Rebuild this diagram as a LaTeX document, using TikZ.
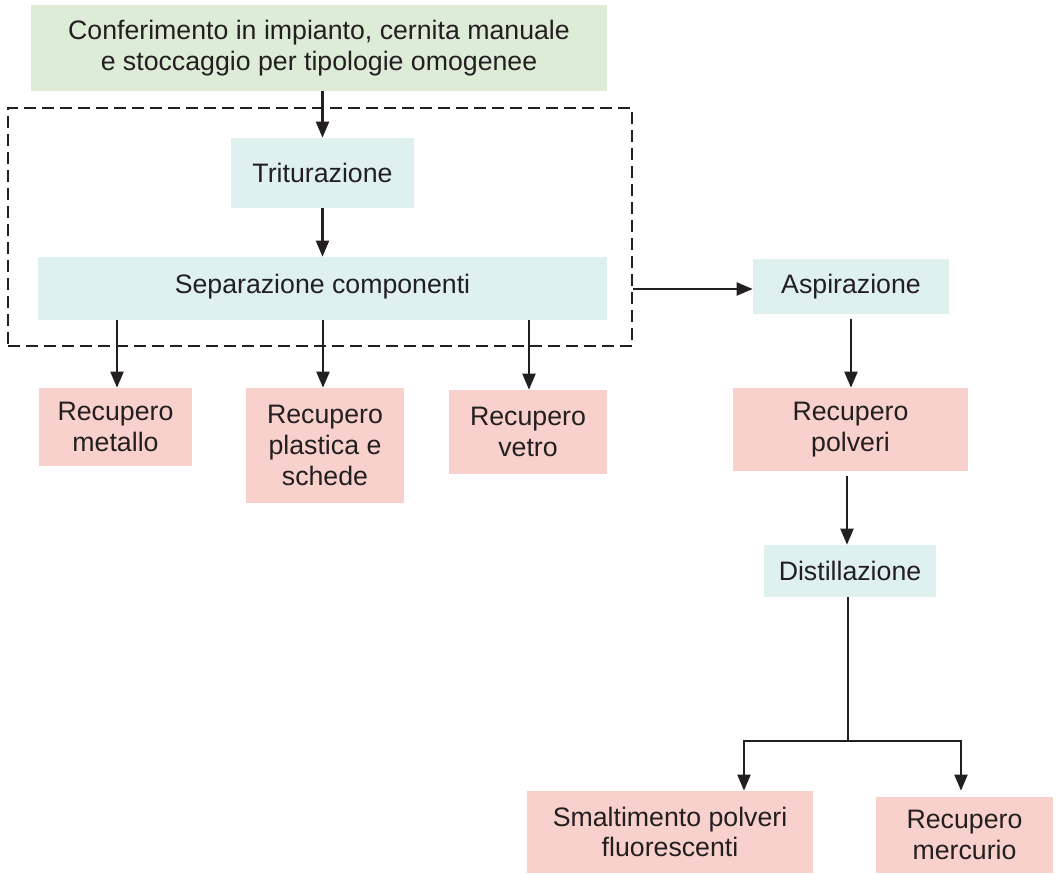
\documentclass[tikz,border=0pt]{standalone}
\usepackage{fontspec}
\setmainfont{Liberation Sans}
\usepackage{tikz}
\usetikzlibrary{arrows.meta,positioning,calc}
\usepackage{xcolor}
\definecolor{ink}{RGB}{35,31,32}
\definecolor{leaf}{RGB}{221,236,214}
\definecolor{aqua}{RGB}{222,241,239}
\definecolor{rose}{RGB}{248,208,204}
\tikzset{
  box/.style={inner sep=0pt,align=center,text=ink,
    font=\fontsize{15.2}{17.4}\selectfont},
  inbox/.style={box,fill=leaf},
  opbox/.style={box,fill=aqua},
  outbox/.style={box,fill=rose},
  frame/.style={draw=ink,line width=0.9pt,dash pattern=on 0.24cm off 0.12cm},
  arr/.style={-{Triangle[length=3.2mm,width=2.6mm]},draw=ink,line width=1.2pt},
  uarr/.style={draw=ink,line width=1.2pt},
}

\begin{document}
\begin{tikzpicture}[x=0.02cm,y=-0.02cm]
\useasboundingbox (0,0) rectangle (1058,873);
% upper block
\node[inbox, minimum width=11.52cm, minimum height=1.72cm] (conf) at (319,48)
  {Conferimento in impianto, cernita manuale\\e stoccaggio per tipologie omogenee};
\node[frame, minimum width=12.48cm, minimum height=4.76cm] (lines) at (320,227) {};
\node[opbox, minimum width=3.66cm, minimum height=1.40cm] (trit) at (322.5,173) {Triturazione};
\node[opbox, minimum width=11.38cm, minimum height=1.26cm] (sep) at (322.5,288.5)
  {\raisebox{0.2cm}{Separazione componenti}};
\node[outbox, minimum width=3.06cm, minimum height=1.56cm] (met) at (115.5,427) {Recupero\\metallo};
\node[outbox, minimum width=3.16cm, minimum height=2.30cm] (plast) at (325,445.5) {Recupero\\plastica e\\schede};
\node[outbox, minimum width=3.16cm, minimum height=1.68cm] (vetro) at (528,432) {Recupero\\vetro};
% right branch
\node[opbox, minimum width=3.92cm, minimum height=1.10cm] (asp) at (851,286.5) {Aspirazione};
\node[outbox, minimum width=4.70cm, minimum height=1.66cm] (polv) at (850.5,429.5) {Recupero\\polveri};
\node[opbox, minimum width=3.44cm, minimum height=1.04cm] (dist) at (850,571) {Distillazione};
\node[outbox, minimum width=5.72cm, minimum height=1.64cm] (smalt) at (670,832) {Smaltimento polveri\\fluorescenti};
\node[outbox, minimum width=3.54cm, minimum height=1.52cm] (merc) at (964.5,835) {Recupero\\mercurio};
\coordinate (split) at (848,741);
\coordinate (sl) at (744,741);
\coordinate (sr) at (961,741);
% connectors
\draw[arr] (conf.south -| trit) -- (trit.north);
\draw[arr] (trit.south) -- (sep.north -| trit);
\draw[arr] (sep.south -| 117,0) -- (met.north -| 117,0);
\draw[arr] (sep.south -| 323,0) -- (plast.north -| 323,0);
\draw[arr] (sep.south -| 529,0) -- (vetro.north -| 529,0);
\draw[arr] (lines.east |- 0,289) -- (asp.west |- 0,289);
\draw[arr] (asp.south) ++(0,5) -- (polv.north -| asp);
\draw[arr] (polv.south -| 847,0) ++(0,5) -- (dist.north -| 847,0);
\draw[uarr] (dist.south -| split) -- (split);
\draw[arr] (split) -- (sl) -- (sl |- smalt.north);
\draw[arr] (split) -- (sr) -- (sr |- smalt.north);
\end{tikzpicture}
\end{document}
